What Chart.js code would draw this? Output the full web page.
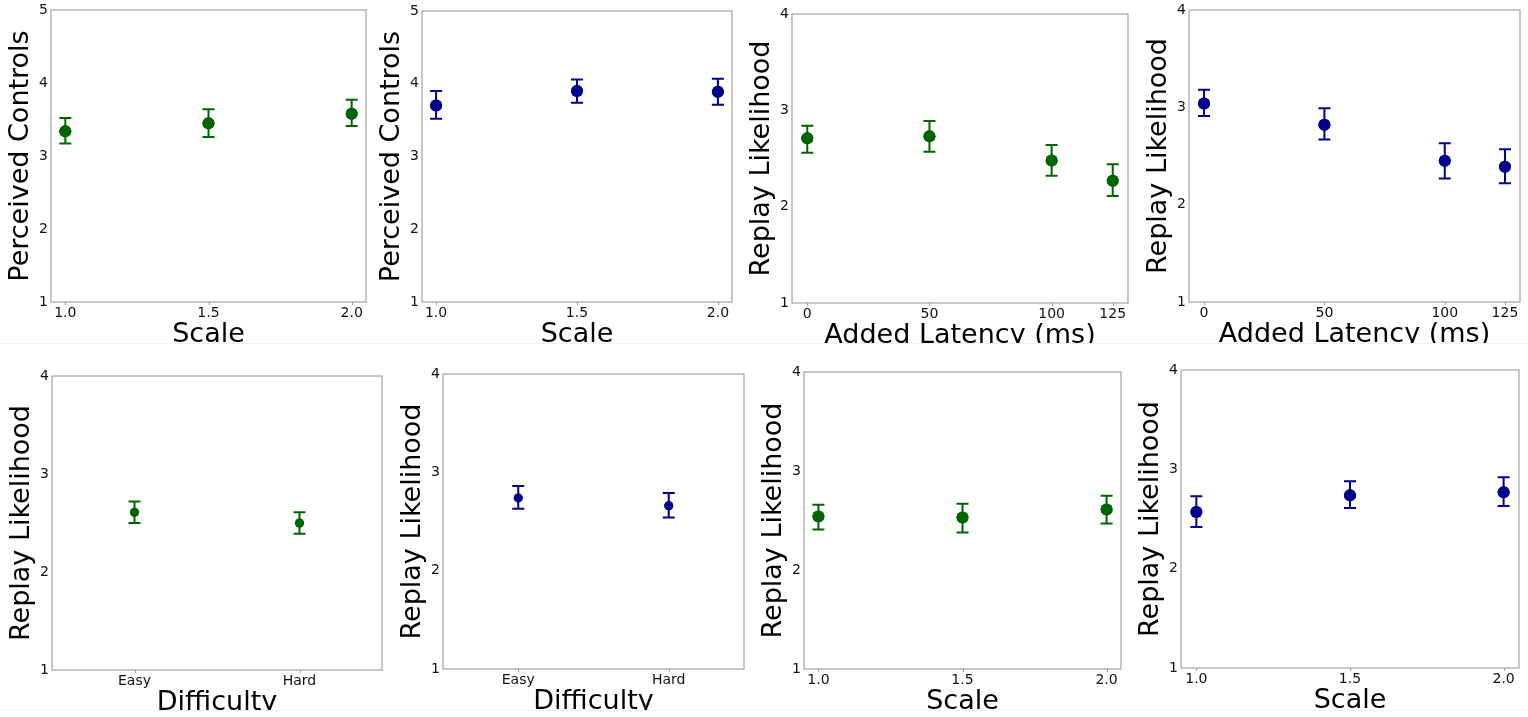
<!DOCTYPE html>
<html>
<head>
<meta charset="utf-8">
<script src="https://cdn.jsdelivr.net/npm/chart.js@4.4.1/dist/chart.umd.min.js"></script>
<style>
  body { margin: 0; background: #fff; width: 1528px; height: 717px; position: relative; overflow: hidden; }
  .panel { position: absolute; overflow: hidden; border-bottom: 1px solid #f0f0f0; }
  .panel canvas { position: absolute; left: 0; top: 0; }
</style>
</head>
<body>
<div id="p1" class="panel"><canvas></canvas></div>
<div id="p2" class="panel"><canvas></canvas></div>
<div id="p3" class="panel"><canvas></canvas></div>
<div id="p4" class="panel"><canvas></canvas></div>
<div id="p5" class="panel"><canvas></canvas></div>
<div id="p6" class="panel"><canvas></canvas></div>
<div id="p7" class="panel"><canvas></canvas></div>
<div id="p8" class="panel"><canvas></canvas></div>
<script>
// x levels
const scaleLevels = [1.0, 1.5, 2.0];
const latencyLevels = [0, 50, 100, 125];
const difficultyLevels = ["Easy", "Hard"];

// y tick labels
const ticksTo5 = [1, 2, 3, 4, 5];
const ticksTo4 = [1, 2, 3, 4];

// perceived controls vs scale
const controlsScaleGreen = [3.34, 3.45, 3.58];
const controlsScaleGreenLow = [3.17, 3.26, 3.41];
const controlsScaleGreenHigh = [3.52, 3.64, 3.77];
const controlsScaleBlue = [3.70, 3.90, 3.89];
const controlsScaleBlueLow = [3.52, 3.74, 3.71];
const controlsScaleBlueHigh = [3.90, 4.06, 4.07];

// replay likelihood vs added latency
const replayLatencyGreen = [2.71, 2.73, 2.48, 2.27];
const replayLatencyGreenLow = [2.56, 2.57, 2.32, 2.11];
const replayLatencyGreenHigh = [2.84, 2.89, 2.64, 2.44];
const replayLatencyBlue = [3.04, 2.82, 2.45, 2.39];
const replayLatencyBlueLow = [2.91, 2.67, 2.27, 2.22];
const replayLatencyBlueHigh = [3.18, 2.99, 2.63, 2.57];

// replay likelihood vs difficulty
const replayDifficultyGreen = [2.61, 2.50];
const replayDifficultyGreenLow = [2.50, 2.39];
const replayDifficultyGreenHigh = [2.72, 2.61];
const replayDifficultyBlue = [2.74, 2.66];
const replayDifficultyBlueLow = [2.63, 2.54];
const replayDifficultyBlueHigh = [2.86, 2.79];

// replay likelihood vs scale
const replayScaleGreen = [2.54, 2.53, 2.61];
const replayScaleGreenLow = [2.41, 2.38, 2.47];
const replayScaleGreenHigh = [2.66, 2.67, 2.75];
const replayScaleBlue = [2.57, 2.74, 2.77];
const replayScaleBlueLow = [2.42, 2.61, 2.63];
const replayScaleBlueHigh = [2.73, 2.88, 2.92];

const GREEN = "#006400";
const BLUE = "#00008b";

Chart.defaults.font.family = "'DejaVu Sans', sans-serif";
Chart.defaults.color = "#111";

const Y_W = 50, X_H = 49, PAD_T = 14, PAD_R = 8, PAD_L = 2;
const TICK_SIZE = 14, TITLE_SIZE = 27;

// box around the plot area plus small x tick marks
const framePlugin = {
    id: "frame",
    beforeDatasetsDraw(chart) {
        const { ctx, chartArea: a } = chart;
        const xs = chart.scales.x;
        ctx.save();
        ctx.strokeStyle = "#a3a3a3";
        ctx.lineWidth = 1.2;
        ctx.strokeRect(a.left, a.top, a.right - a.left, a.bottom - a.top);
        ctx.beginPath();
        xs.ticks.forEach((t, i) => {
            const px = Math.round(xs.getPixelForTick(i)) + 0.5;
            ctx.moveTo(px, a.bottom);
            ctx.lineTo(px, a.bottom + 3);
        });
        ctx.stroke();
        ctx.restore();
    }
};

// vertical error bars with caps
const errorBarPlugin = {
    id: "errorBars",
    afterDatasetsDraw(chart) {
        const { ctx } = chart;
        const ys = chart.scales.y;
        chart.data.datasets.forEach((ds, di) => {
            const meta = chart.getDatasetMeta(di);
            ctx.save();
            ctx.strokeStyle = ds.borderColor;
            ctx.lineWidth = 2;
            meta.data.forEach((pt, i) => {
                const lo = ys.getPixelForValue(ds.errLow[i]);
                const hi = ys.getPixelForValue(ds.errHigh[i]);
                ctx.beginPath();
                ctx.moveTo(pt.x, lo);
                ctx.lineTo(pt.x, hi);
                ctx.moveTo(pt.x - 6, lo);
                ctx.lineTo(pt.x + 6, lo);
                ctx.moveTo(pt.x - 6, hi);
                ctx.lineTo(pt.x + 6, hi);
                ctx.stroke();
            });
            ctx.restore();
            // redraw markers on top of the bars
            meta.data.forEach(pt => pt.draw(ctx, chart.chartArea));
        });
    }
};

function makePanel(spec) {
    const wrap = document.getElementById(spec.id);
    const [l, t, r, b] = spec.area;
    const wl = l - Y_W - PAD_L;
    const wt = t - PAD_T;
    const cw = r + PAD_R - wl;
    const ch = b + X_H - wt;
    wrap.style.left = wl + "px";
    wrap.style.top = wt + "px";
    wrap.style.width = cw + "px";
    wrap.style.height = (spec.crop - wt) + "px";
    const canvas = wrap.querySelector("canvas");
    canvas.width = cw;
    canvas.height = ch;
    canvas.style.width = cw + "px";
    canvas.style.height = ch + "px";

    const isCat = typeof spec.levels[0] === "string";
    const data = isCat ? spec.mean : spec.mean.map((v, i) => ({ x: spec.levels[i], y: v }));

    let xScale;
    if (isCat) {
        xScale = {
            type: "category",
            offset: true,
            grid: { display: false, drawTicks: false },
            border: { display: false },
            ticks: { font: { size: TICK_SIZE }, padding: 3, color: "#111" }
        };
    } else {
        xScale = {
            type: "linear",
            min: spec.xMin,
            max: spec.xMax,
            afterBuildTicks: s => { s.ticks = spec.levels.map(v => ({ value: v })); },
            grid: { display: false, drawTicks: false },
            border: { display: false },
            ticks: { font: { size: TICK_SIZE }, padding: 3, color: "#111", callback: spec.xFmt }
        };
    }
    xScale.title = { display: true, text: spec.xLabel, color: "#000", font: { size: TITLE_SIZE }, padding: { top: 4, bottom: 0 } };
    xScale.afterFit = s => { s.height = X_H; };

    new Chart(canvas.getContext("2d"), {
        type: isCat ? "line" : "scatter",
        data: {
            labels: isCat ? spec.levels : undefined,
            datasets: [{
                data: data,
                showLine: false,
                borderColor: spec.color,
                backgroundColor: spec.color,
                pointBackgroundColor: spec.color,
                pointBorderWidth: 0,
                pointRadius: spec.radius,
                errLow: spec.low,
                errHigh: spec.high
            }]
        },
        options: {
            responsive: false,
            animation: false,
            events: [],
            layout: { padding: { top: PAD_T, right: PAD_R, left: PAD_L, bottom: 0 } },
            plugins: { legend: { display: false }, tooltip: { enabled: false } },
            scales: {
                x: xScale,
                y: {
                    min: 1,
                    max: spec.yTicks[spec.yTicks.length - 1],
                    afterBuildTicks: s => { s.ticks = spec.yTicks.map(v => ({ value: v })); },
                    grid: { display: false, drawTicks: false },
                    border: { display: false },
                    ticks: { font: { size: TICK_SIZE }, padding: 3, color: "#111" },
                    title: { display: true, text: spec.yLabel, color: "#000", font: { size: TITLE_SIZE }, padding: { top: 4, bottom: 0 } },
                    afterFit: s => { s.width = Y_W; }
                }
            }
        },
        plugins: [framePlugin, errorBarPlugin]
    });
}

const fmt1 = v => Number(v).toFixed(1);
const fmt0 = v => String(v);

const panels = [
    { id: "p1", area: [51, 10, 366, 302], crop: 343, levels: scaleLevels, xMin: 0.95, xMax: 2.05, xFmt: fmt1,
      mean: controlsScaleGreen, low: controlsScaleGreenLow, high: controlsScaleGreenHigh, color: GREEN, radius: 6,
      yTicks: ticksTo5, yLabel: "Perceived Controls", xLabel: "Scale" },
    { id: "p2", area: [422, 11, 732, 302], crop: 343, levels: scaleLevels, xMin: 0.95, xMax: 2.05, xFmt: fmt1,
      mean: controlsScaleBlue, low: controlsScaleBlueLow, high: controlsScaleBlueHigh, color: BLUE, radius: 6,
      yTicks: ticksTo5, yLabel: "Perceived Controls", xLabel: "Scale" },
    { id: "p3", area: [792, 14, 1128, 303], crop: 343, levels: latencyLevels, xMin: -6.25, xMax: 131.25, xFmt: fmt0,
      mean: replayLatencyGreen, low: replayLatencyGreenLow, high: replayLatencyGreenHigh, color: GREEN, radius: 6,
      yTicks: ticksTo4, yLabel: "Replay Likelihood", xLabel: "Added Latency (ms)" },
    { id: "p4", area: [1189, 10, 1520, 302], crop: 343, levels: latencyLevels, xMin: -6.25, xMax: 131.25, xFmt: fmt0,
      mean: replayLatencyBlue, low: replayLatencyBlueLow, high: replayLatencyBlueHigh, color: BLUE, radius: 6,
      yTicks: ticksTo4, yLabel: "Replay Likelihood", xLabel: "Added Latency (ms)" },
    { id: "p5", area: [52, 376, 382, 670], crop: 710, levels: difficultyLevels,
      mean: replayDifficultyGreen, low: replayDifficultyGreenLow, high: replayDifficultyGreenHigh, color: GREEN, radius: 4.5,
      yTicks: ticksTo4, yLabel: "Replay Likelihood", xLabel: "Difficulty" },
    { id: "p6", area: [443, 374, 744, 669], crop: 710, levels: difficultyLevels,
      mean: replayDifficultyBlue, low: replayDifficultyBlueLow, high: replayDifficultyBlueHigh, color: BLUE, radius: 4.5,
      yTicks: ticksTo4, yLabel: "Replay Likelihood", xLabel: "Difficulty" },
    { id: "p7", area: [804, 372, 1121, 669], crop: 710, levels: scaleLevels, xMin: 0.95, xMax: 2.05, xFmt: fmt1,
      mean: replayScaleGreen, low: replayScaleGreenLow, high: replayScaleGreenHigh, color: GREEN, radius: 6,
      yTicks: ticksTo4, yLabel: "Replay Likelihood", xLabel: "Scale" },
    { id: "p8", area: [1181, 370, 1519, 668], crop: 710, levels: scaleLevels, xMin: 0.95, xMax: 2.05, xFmt: fmt1,
      mean: replayScaleBlue, low: replayScaleBlueLow, high: replayScaleBlueHigh, color: BLUE, radius: 6,
      yTicks: ticksTo4, yLabel: "Replay Likelihood", xLabel: "Scale" }
];

panels.forEach(makePanel);
</script>
</body>
</html>
